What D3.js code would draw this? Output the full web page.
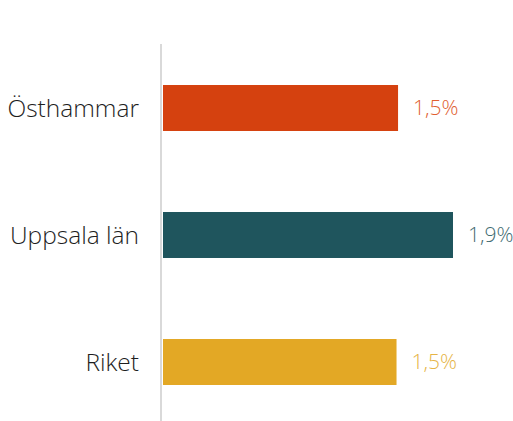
<!DOCTYPE html>
<html>
<head>
<meta charset="utf-8">
<script src="https://cdn.jsdelivr.net/npm/d3@7"></script>
<style>
  body { margin: 0; background: #fff; }
  text { font-family: "Open Sans", sans-serif; font-weight: 300; }
</style>
</head>
<body>
<div id="chart"></div>
<script>
var categories = ["Östhammar", "Uppsala län", "Riket"];
var values = [1.54, 1.9, 1.53];
var barColors = ["#d5410f", "#1f555d", "#e3a825"];
var labelColors = ["#e0602f", "#3f6b71", "#e6b446"];

var width = 513, height = 421;

var svg = d3.select("#chart")
            .append("svg")
            .attr("width", width)
            .attr("height", height);

var y = d3.scaleBand()
          .domain(categories)
          .range([44.5, 425.5])
          .paddingInner(0.638)
          .paddingOuter(0.319);

var x = d3.scaleLinear()
          .domain([0, 1.9])
          .range([163, 453]);

var fmt = function(v) { return d3.format(".1f")(v).replace(".", ",") + "%"; };

var rows = categories.map(function(c, i) { return {cat: c, val: values[i], i: i}; });

svg.selectAll("rect.bar")
   .data(rows)
   .enter()
   .append("rect")
   .attr("class", "bar")
   .attr("x", x(0))
   .attr("y", function(d) { return y(d.cat); })
   .attr("width", function(d) { return x(d.val) - x(0); })
   .attr("height", y.bandwidth())
   .style("fill", function(d) { return barColors[d.i]; });

// vertical axis line
svg.append("line")
   .attr("x1", 161).attr("x2", 161)
   .attr("y1", 44).attr("y2", height)
   .style("stroke", "#d9d9d9")
   .style("stroke-width", 2);

svg.selectAll("text.cat")
   .data(rows)
   .enter()
   .append("text")
   .attr("class", "cat")
   .attr("x", 139)
   .attr("y", function(d) { return y(d.cat) + y.bandwidth() / 2; })
   .attr("dy", "0.35em")
   .attr("text-anchor", "end")
   .style("font-size", "24.5px")
   .style("fill", "#1e1e1e")
   .text(function(d) { return d.cat; });

svg.selectAll("text.val")
   .data(rows)
   .enter()
   .append("text")
   .attr("class", "val")
   .attr("x", function(d) { return x(d.val) + 15; })
   .attr("y", function(d) { return y(d.cat) + y.bandwidth() / 2; })
   .attr("dy", "0.35em")
   .style("font-size", "21px")
   .style("fill", function(d) { return labelColors[d.i]; })
   .text(function(d) { return fmt(d.val); });
</script>
</body>
</html>
